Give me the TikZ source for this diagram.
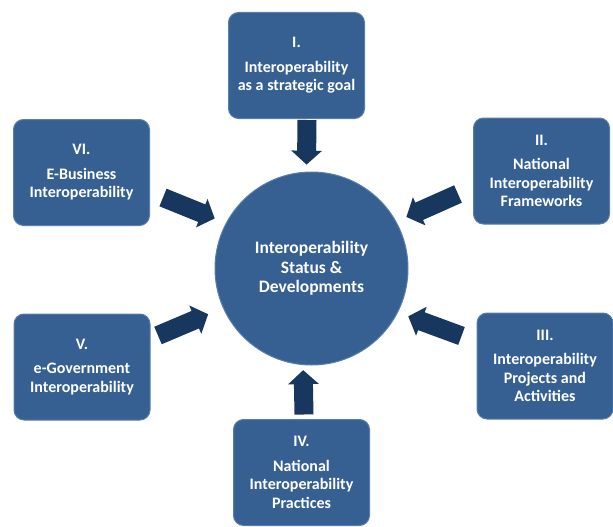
\documentclass[tikz,border=0pt]{standalone}
\usepackage{fontspec}
\setmainfont{Carlito}
\usetikzlibrary{arrows.meta}
\definecolor{boxblue}{RGB}{55,96,146}
\definecolor{boxedge}{RGB}{88,126,174}
\definecolor{arrowblue}{RGB}{23,55,94}

\begin{document}
\begin{tikzpicture}[x=1pt,y=-1pt,
  box/.style={draw=boxedge, line width=1pt, fill=boxblue, rounded corners=10pt, minimum width=136pt, minimum height=106pt, inner sep=0pt, text=white, align=center, font=\fontsize{16}{18.5}\selectfont\bfseries},
  hub/.style={circle, draw=boxedge, line width=1pt, fill=boxblue, minimum size=193pt, inner sep=0pt, text=white, align=center, font=\fontsize{17.5}{19.5}\selectfont\bfseries},
  bigarrow/.style={draw=arrowblue, line width=19pt, -{Triangle[width=30pt,length=14pt]}}]
\useasboundingbox (0,0) rectangle (613,527);

% centre
\node[hub] (hub) at (311.5,268.5) {Interoperability\\Status \&\\Developments};

% the six topics
\node[box] (i) at (296.5,65.5) {I.\\[6pt]Interoperability\\as a strategic goal};
\node[box] (ii) at (541.5,171) {II.\\[6pt]National\\Interoperability\\Frameworks};
\node[box] (iii) at (545,366) {III.\\[6pt]Interoperability\\Projects and\\Activities};
\node[box] (iv) at (301.5,472.5) {IV.\\[6pt]National\\Interoperability\\Practices};
\node[box] (v) at (82,367) {V.\\[6pt]e-Government\\Interoperability};
\node[box] (vi) at (81.5,172.5) {VI.\\[6pt]E-Business\\Interoperability};

% arrows into the centre
\draw[bigarrow, shorten >=7pt] ([shift={(10.5,1)}]i.south) -- (hub.93);
\draw[bigarrow, shorten >=11pt] ([shift={(-15,23)}]ii.west) -- (hub.29);
\draw[bigarrow, shorten >=11pt] ([shift={(-15,-30)}]iii.west) -- (hub.333);
\draw[bigarrow, shorten >=5pt] ([shift={(2.5,-4.5)}]iv.north) -- (hub.265);
\draw[bigarrow, shorten >=16pt] ([shift={(7.5,-31.5)}]v.east) -- (hub.204);
\draw[bigarrow, shorten >=12pt] ([shift={(13,25)}]vi.east) -- (hub.152);
\end{tikzpicture}
\end{document}
